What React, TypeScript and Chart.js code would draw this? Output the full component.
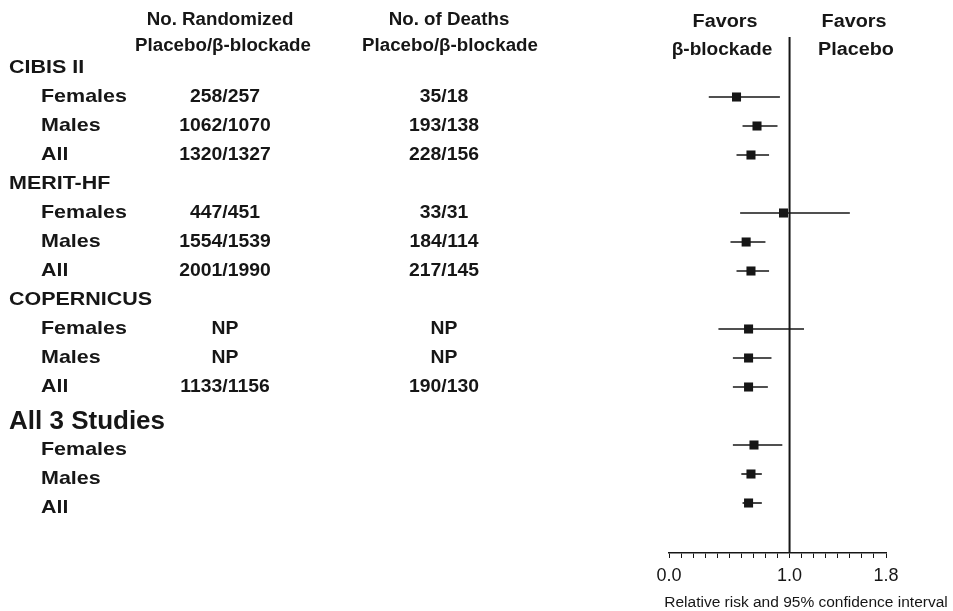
import React, { useEffect, useRef } from "react";
import { Chart, registerables } from "chart.js";

Chart.register(...registerables);

// ---- data ----
const studies = ["CIBIS II", "MERIT-HF", "COPERNICUS", "All 3 Studies"];
const subgroups = ["Females", "Males", "All"];
const randomized = [
  ["258/257", "1062/1070", "1320/1327"],
  ["447/451", "1554/1539", "2001/1990"],
  ["NP", "NP", "1133/1156"],
  ["", "", ""],
];
const deaths = [
  ["35/18", "193/138", "228/156"],
  ["33/31", "184/114", "217/145"],
  ["NP", "NP", "190/130"],
  ["", "", ""],
];
// relative risk point estimates and 95% CI, in order study x subgroup
const rrPoint = [0.56, 0.73, 0.68, 0.95, 0.64, 0.68, 0.66, 0.66, 0.66, 0.705, 0.68, 0.66];
const rrLow = [0.33, 0.61, 0.56, 0.59, 0.51, 0.56, 0.41, 0.53, 0.53, 0.53, 0.6, 0.61];
const rrHigh = [0.92, 0.9, 0.83, 1.5, 0.8, 0.83, 1.12, 0.85, 0.82, 0.94, 0.77, 0.77];
const xTickLabels = [0, 1.0, 1.8];

const INK = "#161616";
const FAM = "'Liberation Sans', Arial, sans-serif";
const Y_MIN = -1.069;
const Y_MAX = 16.724;

const rowOf = (k: number) => Math.floor(k / 3) * 4 + 1 + (k % 3);

function txt(
  ctx: CanvasRenderingContext2D,
  s: string,
  x: number,
  y: number,
  font: string,
  align: CanvasTextAlign,
  sx = 1
) {
  ctx.save();
  ctx.font = font;
  ctx.fillStyle = INK;
  ctx.textBaseline = "middle";
  ctx.textAlign = align;
  ctx.translate(x, y);
  ctx.scale(sx, 1);
  ctx.fillText(s, 0, 0);
  ctx.restore();
}

const tablePlugin = {
  id: "tablePlugin",
  beforeDraw(chart: any) {
    const ctx = chart.ctx as CanvasRenderingContext2D;
    ctx.save();
    ctx.fillStyle = "#fff";
    ctx.fillRect(0, 0, chart.width, chart.height);
    ctx.restore();
  },
  afterDraw(chart: any) {
    const ctx = chart.ctx as CanvasRenderingContext2D;
    const y = chart.scales.y;
    const area = chart.chartArea;
    const hdr = `bold 18px ${FAM}`;
    txt(ctx, "No. Randomized", 220, 20, hdr, "center", 1.04);
    txt(ctx, "Placebo/\u03b2-blockade", 223, 46, hdr, "center", 1.04);
    txt(ctx, "No. of Deaths", 449, 20, hdr, "center", 1.04);
    txt(ctx, "Placebo/\u03b2-blockade", 450, 46, hdr, "center", 1.04);
    txt(ctx, "Favors", 725, 22, hdr, "center", 1.1);
    txt(ctx, "\u03b2-blockade", 722, 50, hdr, "center", 1.06);
    txt(ctx, "Favors", 854, 22, hdr, "center", 1.1);
    txt(ctx, "Placebo", 856, 50, hdr, "center", 1.1);

    studies.forEach((st, s) => {
      const big = s === 3;
      const off = big ? 6 : 0;
      const py = y.getPixelForValue(s * 4) + off;
      txt(ctx, st, 9, py, big ? `bold 26px ${FAM}` : `bold 19px ${FAM}`, "left", big ? 1.0 : 1.13);
      subgroups.forEach((sg, j) => {
        const ry = y.getPixelForValue(s * 4 + 1 + j) + (big ? 5 : 0);
        txt(ctx, sg, 41, ry, `bold 19px ${FAM}`, "left", 1.13);
        if (randomized[s][j]) txt(ctx, randomized[s][j], 225, ry, `bold 19px ${FAM}`, "center", 1.02);
        if (deaths[s][j]) txt(ctx, deaths[s][j], 444, ry, `bold 19px ${FAM}`, "center", 1.02);
      });
    });

    txt(
      ctx,
      "Relative risk and 95% confidence interval",
      806,
      area.bottom + 50,
      `15.5px ${FAM}`,
      "center",
      1.0
    );
  },
};

export default function App() {
  const ref = useRef<HTMLCanvasElement | null>(null);
  useEffect(() => {
    document.body.style.margin = "0";
    const canvas = ref.current!;
    const ciSets = rrPoint.map((_, k) => ({
      type: "scatter" as const,
      showLine: true,
      data: [
        { x: rrLow[k], y: rowOf(k) },
        { x: rrHigh[k], y: rowOf(k) },
      ],
      borderColor: INK,
      borderWidth: 1.6,
      pointRadius: 0,
      order: 2,
    }));
    const chart = new Chart(canvas, {
      type: "scatter",
      data: {
        datasets: [
          {
            showLine: true,
            data: [
              { x: 1, y: Y_MIN },
              { x: 1, y: Y_MAX },
            ],
            borderColor: INK,
            borderWidth: 2,
            pointRadius: 0,
            order: 3,
          } as any,
          ...ciSets,
          {
            data: rrPoint.map((v, k) => ({ x: v, y: rowOf(k) })),
            pointStyle: "rect",
            pointRadius: 6.4,
            backgroundColor: INK,
            borderWidth: 0,
            order: 1,
          },
        ],
      },
      options: {
        animation: false,
        responsive: false,
        events: [],
        layout: { padding: { left: 669, right: 67, top: 37, bottom: 0 } },
        plugins: { legend: { display: false }, tooltip: { enabled: false } },
        scales: {
          x: {
            type: "linear",
            min: 0,
            max: 1.8,
            afterFit: (scale: any) => {
              scale.height = 58;
            },
            grid: {
              display: true,
              drawOnChartArea: false,
              drawTicks: true,
              tickLength: 5,
              color: INK,
              lineWidth: 1,
            },
            border: { display: true, color: INK, width: 1.5 },
            ticks: {
              stepSize: 0.1,
              autoSkip: false,
              maxRotation: 0,
              padding: 7,
              color: INK,
              font: { family: "'Liberation Sans', Arial, sans-serif", size: 18 },
              callback: (v: any) => {
                const n = Number(v);
                const hit = xTickLabels.find((t) => Math.abs(t - n) < 1e-6);
                return hit === undefined ? "" : hit.toFixed(1);
              },
            },
          },
          y: {
            type: "linear",
            display: false,
            reverse: true,
            min: Y_MIN,
            max: Y_MAX,
          },
        },
      },
      plugins: [tablePlugin],
    } as any);
    return () => chart.destroy();
  }, []);
  return (
    <div style={{ width: 953, height: 611 }}>
      <canvas ref={ref} width={953} height={611} style={{ display: "block" }} />
    </div>
  );
}
